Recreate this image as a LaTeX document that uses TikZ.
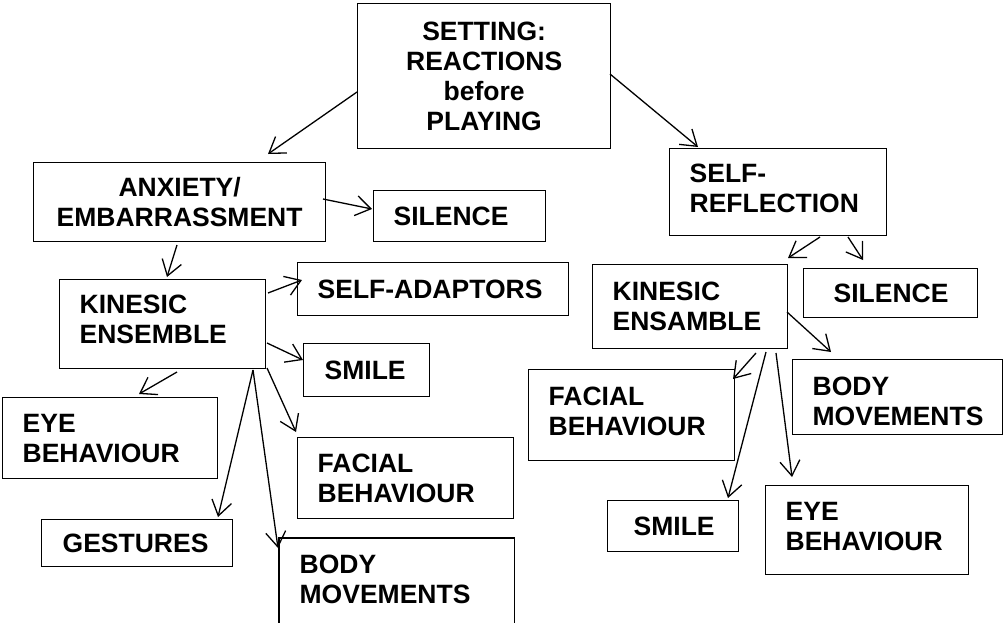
\documentclass[tikz,border=0pt]{standalone}
\usepackage{fontspec}
\setmainfont{Liberation Sans}
\usetikzlibrary{arrows.meta,calc}
\newcommand{\boxfont}{\fontsize{26.5pt}{30pt}\selectfont\bfseries}
\begin{document}
\begin{tikzpicture}[x=1pt,y=-1pt,
  boxline/.style={line width=1.3pt},
  bx/.style={boxline, draw, anchor=north west, inner xsep=20pt, inner ysep=0pt,
    align=left, font=\boxfont},
  arr/.style={line width=1.3pt, -{Straight Barb[length=15pt,width=20pt]}}]
\useasboundingbox (0,0) rectangle (1006,622);
\clip (0,0) rectangle (1006,622);

% top
\node[bx, align=center, minimum width=253pt, minimum height=145pt, text width=213pt] (set) at (357,3)
  {SETTING:\\REACTIONS\\before\\PLAYING};

% left branch
\node[bx, align=center, minimum width=292pt, minimum height=79pt, text width=252pt] (anx) at (33,162)
  {ANXIETY/\\EMBARRASSMENT};
\node[bx, minimum width=172pt, minimum height=51pt, text width=132pt] (silL) at (373,190) {SILENCE};
\node[bx, minimum width=206pt, minimum height=89pt, text width=166pt, text depth=39pt] (kinL) at (59,279) {KINESIC\\ENSEMBLE};
\node[bx, minimum width=271pt, minimum height=53pt, text width=231pt] (adap) at (297,262) {SELF-ADAPTORS};
\node[bx, minimum width=124pt, minimum height=53pt, text width=84pt, inner xsep=21pt] (smiL) at (303,343) {SMILE};
\node[bx, minimum width=215pt, minimum height=81pt, text width=175pt] (eyeL) at (2,397) {EYE\\BEHAVIOUR};
\node[bx, minimum width=216pt, minimum height=81pt, text width=176pt] (facL) at (297,437) {FACIAL\\BEHAVIOUR};
\node[bx, minimum width=191pt, minimum height=47pt, text width=149pt, inner xsep=21pt] (ges) at (41,519) {GESTURES};
\node[bx, draw=none, minimum width=234pt, minimum height=82pt, text width=194pt] (bodL) at (279,538) {BODY\\MOVEMENTS};
\draw[boxline] ([yshift=-30pt]bodL.south west) |- (bodL.north east) -- ([yshift=-30pt]bodL.south east);

% right branch
\node[bx, minimum width=217pt, minimum height=87pt, text width=177pt, text depth=37pt] (refl) at (669,148) {SELF-\\REFLECTION};
\node[bx, minimum width=195pt, minimum height=84pt, text width=155pt] (kinR) at (592,264) {KINESIC\\ENSAMBLE};
\node[bx, minimum width=174pt, minimum height=49pt, text width=114pt, inner xsep=30pt] (silR) at (803,268) {SILENCE};
\node[bx, minimum width=206pt, minimum height=91pt, text width=166pt, text depth=38pt] (facR) at (528,369) {FACIAL\\BEHAVIOUR};
\node[bx, minimum width=210pt, minimum height=75pt, text width=170pt, text height=26pt] (bodR) at (792,359) {BODY\\MOVEMENTS};
\node[bx, minimum width=131pt, minimum height=51pt, text width=79pt, inner xsep=26pt] (smiR) at (607,500) {SMILE};
\node[bx, minimum width=203pt, minimum height=89pt, text width=163pt, text depth=38pt] (eyeR) at (765,485) {EYE\\BEHAVIOUR};

% connectors
\draw[arr] ($(set.north west)+(0,89)$) -- ($(anx.north west)+(235,-8)$);
\draw[arr] ($(set.north west)+(253,71)$) -- ($(refl.north west)+(29,-1)$);
\draw[arr] ($(anx.north west)+(290,37)$) -- ($(silL.north west)+(-1,19)$);
\draw[arr] ($(anx.north west)+(144,83)$) -- ($(kinL.north west)+(108,-2)$);
\draw[arr] ($(kinL.north west)+(209,14)$) -- ($(adap.north west)+(5,18)$);
\draw[arr] ($(kinL.north west)+(208,64)$) -- ($(smiL.north west)+(0,17)$);
\draw[arr] ($(kinL.north west)+(118,93)$) -- ($(eyeL.north west)+(137,-3)$);
\draw[arr] ($(kinL.north west)+(208,89)$) -- ($(facL.north west)+(-1,-5)$);
\draw[arr] ($(kinL.north west)+(194,91)$) -- ($(ges.north west)+(177,-2)$);
\draw[arr] ($(kinL.north west)+(194,91)$) -- ($(bodL.north west)+(-1,10)$);

\draw[arr] ($(refl.north west)+(151,89)$) -- ($(kinR.north west)+(196,-6)$);
\draw[arr] ($(refl.north west)+(179,89)$) -- ($(silR.north west)+(60,-8)$);
\draw[arr] ($(kinR.north west)+(195,48)$) -- ($(bodR.north west)+(39,-7)$);
\draw[arr] ($(kinR.north west)+(164,89)$) -- ($(facR.north west)+(205,10)$);
\draw[arr] ($(kinR.north west)+(174,88)$) -- ($(smiR.north west)+(121,-2)$);
\draw[arr] ($(kinR.north west)+(184,89)$) -- ($(eyeR.north west)+(27,-8)$);
\end{tikzpicture}
\end{document}
